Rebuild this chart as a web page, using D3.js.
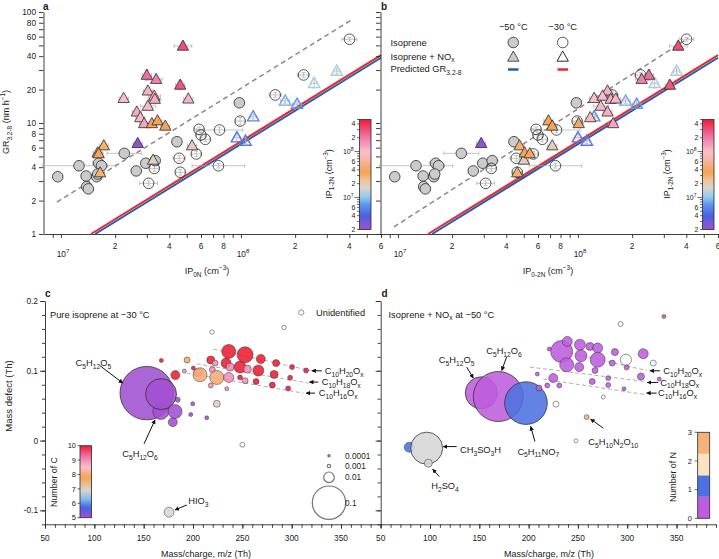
<!DOCTYPE html>
<html><head><meta charset="utf-8">
<script src="https://cdn.jsdelivr.net/npm/d3@7"></script>
<style>
body{margin:0;background:#fff}
svg{display:block}
text{font-family:"Liberation Sans",Arial,Helvetica,sans-serif;fill:#1a1a1a}
</style>
</head><body>
<svg id="chart" width="719" height="559"></svg>
<script>
// ================= DATA =================
// Panels a & b: growth rate vs ion-pair concentration
const ipDomain = [8e6, 6e8];
const grDomain = [1, 100];
const grTicks = [1,2,3,4,5,6,7,8,9,10,20,30,40,50,60,70,80,90,100];
const grTickLabels = [1,2,4,6,8,10,20,40,60,80,100];
const ipTicks = [9e6,1e7,2e7,3e7,4e7,5e7,6e7,7e7,8e7,9e7,1e8,2e8,3e8,4e8,5e8,6e8];
const ipLabelVals = [1e7,2e7,4e7,6e7,8e7,1e8,2e8,4e8,6e8];
const ipLabelText = ['10^{7}','2','4','6','8','10^{8}','2','4','6'];
// colorbar IP1-2N
const cbDomain = [2e6, 5e8];
const cbTicks = [2e6,3e6,4e6,5e6,6e6,7e6,8e6,9e6,1e7,2e7,3e7,4e7,5e7,6e7,7e7,8e7,9e7,1e8,2e8,3e8,4e8,5e8];
const cbLabelVals = [2e6,4e6,6e6,1e7,2e7,4e7,6e7,1e8,2e8,4e8];
const cbLabelText = ['2','4','6','10^{7}','2','4','6','10^{8}','2','4'];
const ipColorVals = [2e6,4e6,7e6,1e7,1.6e7,2.5e7,3.5e7,6e7,1e8,2e8,5e8];
const ipColorHex = ['#a150d2','#4a62e0','#5f95ef','#8ccaee','#d9d5cd','#f2c08e','#f5a352','#f7b39a','#f8bfca','#f07aab','#ee1c34'];

// Isoprene, -50 C (filled circles): [IP, GR, xErrFactor, yErrFactor]
const isoCold = [
  [9.6e6,3.28,1.06,1.05],[1.26e7,4.12,1.6,1.05],[1.38e7,3.33,1.06,1.05],[1.39e7,2.67,1.06,1.04],
  [1.42e7,2.55,1.06,1.04],[1.58e7,3.28,1.06,1.04],[1.62e7,4.34,1.08,1.05],[1.68e7,4.12,1.08,1.05],
  [1.6e7,3.47,1.06,1.04],[2.25e7,5.33,1.25,1.05],[2.62e7,3.7,1.06,1.04],[2.96e7,4.34,1.06,1.05],
  [3.34e7,4.58,1.06,1.05],[4.41e7,6.78,1.06,1.05],[9.8e7,15.2,1.06,1.05]
];
// Isoprene, -30 C (open circles)
const isoWarm = [
  [4.01e8,56.8,1.1,1.04],[2.23e8,27.1,1.08,1.05],[1.55e8,17.9,1.08,1.05],[9.9e7,10.4,1.06,1.08],
  [7.6e7,8.65,1.35,1.06],[5.85e7,8.77,1.06,1.05],[6.0e7,7.8,1.06,1.05],[6.34e7,7.13,1.06,1.05],
  [5.65e7,5.26,1.06,1.06],[4.54e7,4.81,1.08,1.06],[4.6e7,3.6,1.06,1.06],[7.5e7,4.12,1.4,1.05],
  [3.07e7,2.86,1.12,1.05],[3.3e7,3.9,1.06,1.06]
];
// Isoprene + NOx, -50 C (filled triangles): [IP0N, IP0-2N, GR, IP1-2N, xErr, yErr]
const noxCold = [
  [4.76e7,3.61e8,49.4,3.1e8,1.12,1.08],[4.6e7,3.24e8,22.0,2.8e8,1.06,1.1],[3.0e7,2.48e8,27.0,2.2e8,1.06,1.12],
  [3.38e7,2.26e8,24.8,1.9e8,1.08,1.06],[2.23e7,1.23e8,16.7,1.0e8,1.06,1.06],[3.04e7,1.46e8,19.5,1.15e8,1.06,1.06],
  [3.3e7,1.37e8,17.5,1.05e8,1.08,1.05],[3.32e7,1.52e8,16.4,1.2e8,1.08,1.05],[5.1e7,1.62e8,16.5,1.1e8,1.06,1.05],
  [3.04e7,1.34e8,14.2,1.04e8,1.1,1.05],[2.64e7,1.46e8,12.6,1.2e8,1.06,1.05],[2.76e7,1.17e8,11.2,9e7,1.06,1.05],
  [2.9e7,1.57e8,9.9,1.3e8,1.06,1.05],[3.2e7,1.01e8,9.9,4e7,1.06,1.05],[3.44e7,6.86e7,10.5,3.4e7,1.06,1.05],
  [3.8e7,7.2e7,9.4,3.4e7,1.06,1.05],[2.67e7,2.9e7,6.56,2.3e6,1.06,1.05],[5.35e7,7.2e7,6.25,1.85e7,1.06,1.05],
  [3.25e7,5.01e7,4.64,1.76e7,1.06,1.05],[1.73e7,4.74e7,6.25,3e7,1.06,1.05],[1.6e7,5.06e7,5.4,3.46e7,1.06,1.05],
  [1.65e7,4.6e7,3.57,2.95e7,1.06,1.05],[1.62e7,5.4e7,5.3,3.8e7,1.06,1.05]
];
// Isoprene + NOx, -30 C (open triangles)
const noxWarm = [
  [3.41e8,3.53e8,29.4,1.2e7,1.04,1.06],[2.55e8,2.67e8,22.8,1.2e7,1.04,1.1],[1.76e8,1.84e8,15.8,8e6,1.06,1.05],
  [2.05e8,2.12e8,14.8,7e6,1.06,1.05],[1.17e8,1.23e8,11.4,6e6,1.04,1.05],[9.5e7,1.0e8,7.38,5e6,1.04,1.08],
  [1.06e8,1.12e8,6.88,5e6,1.04,1.05]
];
// Predicted GR and dashed guide lines: [IP, GR]
const predCold = [[1.55e7,1],[6e8,38.7]];
const predWarm = [[1.47e7,1],[6e8,40.8]];
const guideA = [[9.5e6,1.94],[4.05e8,83.5]];
const guideB = [[9.5e6,1.16],[4.1e8,58]];

// Panels c & d: mass defect plots
const mzDomain = [50, 390];
const mdDomain = [-0.12, 0.2];
const mzMajor = [50,100,150,200,250,300,350];
const mdMajor = [-0.1,0,0.1,0.2];
const mdLabels = ['-0.1','0','0.1','0.2'];
// [m/z, mass defect, signal fraction, number of C] ; nC = 0 -> grey inorganic
const bubblesC = [
  [153.1,0.068,0.256,5],[167.6,0.0666,0.086,5],[167.3,0.0416,0.023,5],[181.8,0.0416,0.0176,5],
  [179.5,0.0264,0.0073,5],[184.5,0.0584,0.0022,5],[199.7,0.0527,0.0014,5],[197.7,0.0373,0.0014,5],
  [213.9,0.0326,0.0014,5],
  [167.9,0.1148,0.0014,10],[182.1,0.0938,0.0073,10],[191.2,0.0996,0.0014,9],[194,0.1154,0.0032,8],
  [200.3,0.1039,0.0014,10],[204.8,0.0976,0.0057,9],[207.1,0.0943,0.0176,8],[218,0.1154,0.0057,10],
  [222.3,0.111,0.0032,9],[224.1,0.0904,0.0176,8],[218,0.0789,0.0022,9],[219.6,0.1014,0.0032,9],
  [236.2,0.1277,0.0176,10],[233.5,0.111,0.009,10],[237.6,0.1053,0.0057,9],[236.2,0.0904,0.009,9],
  [234.2,0.0742,0.0014,9],[252.8,0.123,0.023,10],[247.7,0.1053,0.0129,10],[255.1,0.1024,0.0057,9],
  [247.7,0.0904,0.0022,10],[252.8,0.0857,0.0032,9],[268.7,0.1168,0.0073,10],[266.2,0.1004,0.0109,10],
  [263.9,0.0846,0.0032,10],[284.2,0.111,0.0044,10],[282.2,0.0947,0.0057,10],[280.4,0.0795,0.0032,10],
  [300.4,0.1053,0.0022,10],[298.4,0.09,0.0022,10],[296.4,0.0746,0.0022,10],[314.6,0.1004,0.0022,10],
  [224.1,0.0527,0.0044,7],
  [175.7,-0.1027,0.009,0]
];
const unknownC = [[219.3,0.1555,0.0018],[292.3,0.162,0.0018],[250,-0.006,0.0022]];
// [m/z, mass defect, signal fraction, number of N] ; nN = -1 -> grey inorganic
const bubblesD = [
  [79,-0.0095,0.009,1],[96.6,-0.0109,0.092,-1],[98.3,-0.0324,0.0057,-1],
  [152,0.0684,0.092,0],[169.2,0.0631,0.224,0],[197.3,0.0537,0.163,1],[258.8,0.0336,0.0022,2],
  [233.5,0.1277,0.0434,0],[239.2,0.142,0.009,0],[238.6,0.1086,0.0176,0],[252,0.1373,0.0109,0],
  [253.1,0.1215,0.0129,0],[262.2,0.1349,0.0057,0],[270,0.1326,0.009,0],[270,0.1158,0.0202,0],
  [251.3,0.1053,0.0073,0],[267.3,0.1004,0.0032,0],[225,0.0895,0.0073,0],[220.9,0.1311,0.0014,0],
  [208.8,0.0953,0.0014,0],[218.9,0.0789,0.0022,0],[231.1,0.0789,0.0022,0],[210.5,0.0752,0.0032,0],
  [264.5,0.0846,0.0032,0],[280.7,0.0795,0.0022,0],[284.8,0.111,0.0032,0],[287.5,0.1268,0.0044,0],
  [299.4,0.1047,0.0022,0],[296.7,0.0742,0.0014,0],[316.2,0.1244,0.009,0],[313.9,0.0918,0.0044,0],
  [332.4,0.0881,0.0014,0],[337.2,0.1779,0.0014,0],[280.7,0.0895,0.0022,0]
];
const unknownD = [[227.7,0.0522,0.0032],[275.7,0.0623,0.0014],[248,-0.0004,0.0014],[293.3,0.167,0.0022],[298.7,0.1158,0.0109],[326.4,0.111,0.0032]];
// CHO series guide lines: [[mz0,md0],[mz1,md1]]
const seriesC = [[[220.6,0.1311],[318.7,0.1004]],[[203.8,0.110],[316.9,0.0824]],[[193.7,0.0967],[311.9,0.068]]];
const seriesD = [[[235.1,0.1277],[319.7,0.1004]],[[201.4,0.1053],[318,0.0846]],[[215,0.088],[318,0.066]]];
const seriesNames = ['C_{10}H_{20}O_{x}','C_{10}H_{18}O_{x}','C_{10}H_{16}O_{x}'];
// series arrows: [tailMz, headMz, md, labelMz]
const seriesArrowsC = [[330.5,320.4,0.1,333.5],[326.8,318,0.0838,330.5],[323.7,314.6,0.068,327.4]];
const seriesArrowsD = [[333.2,323,0.1,336.5],[331.4,320.3,0.0832,333.5],[329.8,319.7,0.068,331.3]];
// labelled peaks: [text, labelMz, labelMd, tailMz, tailMd, headMz, headMd, anchor]
const annotC = [
  ['C_{5}H_{12}O_{5}',99,0.111,105.8,0.1072,128.8,0.0824,'middle'],
  ['C_{5}H_{12}O_{6}',146.3,-0.0195,150.4,-0.0047,161.5,0.0297,'middle'],
  ['HIO_{3}',205.4,-0.087,193.7,-0.0923,181.8,-0.0994,'middle']
];
const annotD = [
  ['C_{5}H_{12}O_{5}',127,0.116,137.2,0.1053,143.9,0.0895,'middle'],
  ['C_{5}H_{12}O_{6}',175,0.128,177.7,0.1197,172.7,0.1004,'middle'],
  ['C_{5}H_{11}NO_{7}',209.8,-0.0155,206.4,-0.0014,202.1,0.0201,'middle'],
  ['CH_{3}SO_{3}H',130.4,-0.0135,127,-0.0086,113.5,-0.0086,'start'],
  ['H_{2}SO_{4}',115.2,-0.0655,109.4,-0.0516,102.7,-0.041,'middle'],
  ['C_{5}H_{10}N_{2}O_{10}',285.8,-0.0015,275.7,0.0178,262.9,0.0307,'middle']
];
const sizeLegend = [0.0001,0.001,0.01,0.1];
const sizeLegendText = ['0.0001','0.001','0.01','0.1'];
const cLabels = [5,6,7,8,9,10];
const cColorVals = [5,5.7,6.3,6.9,7.8,8.5,9.2,10];
const cColorHex = ['#a150d2','#4a62e0','#7fbcef','#d9d5cd','#f5a352','#f8bfca','#f07aab','#ee1c34'];
const nLevels = [0,1,2,3];
const nBlocks = [[0,0.75,'#bd5ddd'],[0.75,1.5,'#4d72e0'],[1.5,2.25,'#fde2c2'],[2.25,3,'#f5b378']];

// ================= DRAWING =================
const svg = d3.select('#chart');
const FS = 8.3;     // tick labels
const FT = 9;       // axis titles
const FL = 9.3;     // legends / annotations
const INK = '#2a2a2a';

function rich(t, s, fs){
  const parts = s.split(/(_\{[^}]*\}|\^\{[^}]*\})/).filter(p=>p!=='');
  let cur = 0;
  parts.forEach(p=>{
    let txt=p, target=0, size=fs;
    if(p.startsWith('_{')){txt=p.slice(2,-1); target=fs*0.3; size=fs*0.72;}
    else if(p.startsWith('^{')){txt=p.slice(2,-1); target=-fs*0.4; size=fs*0.72;}
    t.append('tspan').attr('dy', (target-cur).toFixed(2)).attr('font-size', size).text(txt);
    cur = target;
  });
  return t;
}
function txt(g, x, y, s, fs, anchor, rot){
  const t = g.append('text').attr('x',x).attr('y',y).attr('font-size',fs).attr('text-anchor',anchor||'start');
  if(rot) t.attr('transform',`rotate(${rot},${x},${y})`);
  return rich(t, s, fs);
}
const defs = svg.append('defs');
defs.append('marker').attr('id','arrow').attr('viewBox','0 0 10 10').attr('refX',9).attr('refY',5)
  .attr('markerWidth',4.5).attr('markerHeight',4.5).attr('orient','auto')
  .append('path').attr('d','M0,0 L10,5 L0,10 Z').attr('fill','#111');

const ipColor = d3.scaleLog().domain(ipColorVals).range(ipColorHex).clamp(true);
const cColor = d3.scaleLinear().domain(cColorVals).range(cColorHex).clamp(true);
const triPath = 'M0,-6 L5.7,4.2 L-5.7,4.2 Z';

function vColorbar(id, scale, dom, x, y0, y1, w, isLog){
  const grad = defs.append('linearGradient').attr('id',id).attr('x1',0).attr('y1',1).attr('x2',0).attr('y2',0);
  const n = 40;
  for(let i=0;i<=n;i++){
    const f = i/n;
    const v = isLog ? Math.pow(10, Math.log10(dom[0]) + f*(Math.log10(dom[1])-Math.log10(dom[0]))) : dom[0]+f*(dom[1]-dom[0]);
    grad.append('stop').attr('offset',f).attr('stop-color',scale(v));
  }
  svg.append('rect').attr('x',x).attr('y',y0).attr('width',w).attr('height',y1-y0)
    .attr('fill',`url(#${id})`).attr('stroke',INK).attr('stroke-width',0.8);
}

function ipColorbar(bx, titleX){
  const y = d3.scaleLog().domain(cbDomain).range([229.5,119.5]);
  vColorbar('g'+bx, ipColor, cbDomain, bx, 119.5, 229.5, 11.5, true);
  const g = svg.append('g');
  cbTicks.forEach(v=>{
    const major = [1e7,1e8].includes(v);
    g.append('line').attr('x1',bx).attr('x2',bx-(major?5:2.5)).attr('y1',y(v)).attr('y2',y(v)).attr('stroke',INK).attr('stroke-width',0.7);
  });
  cbLabelVals.forEach((v,i)=>{
    const pow = cbLabelText[i].startsWith('10');
    txt(g, bx-(pow?6:4), y(v)+2.5, cbLabelText[i], 7, 'end');
  });
  txt(g, titleX, 174, 'IP_{1-2N} (cm^{−3})', 8.8, 'middle', -90);
}

function growthPanel(x0, x1, idx, showYLabels){
  const g = svg.append('g');
  const x = d3.scaleLog().domain(ipDomain).range([x0, x1]);
  const y = d3.scaleLog().domain(grDomain).range([234, 12]);
  const line = d3.line().x(d=>x(d[0])).y(d=>y(d[1]));
  // x axis
  g.append('g').attr('transform','translate(0,234)').attr('color',INK)
    .call(d3.axisBottom(x).tickValues(ipTicks).tickFormat('').tickSize(4).tickSizeOuter(0))
    .call(s=>s.selectAll('line,path').attr('stroke-width',0.9));
  ipLabelVals.forEach((v,i)=>{
    const pow = ipLabelText[i].startsWith('10');
    txt(g, x(v)+(pow?2:0), pow?256.5:248.5, ipLabelText[i], FS, 'middle');
  });
  // y axis
  g.append('g').attr('transform',`translate(${x0},0)`).attr('color',INK)
    .call(d3.axisLeft(y).tickValues(grTicks).tickFormat('').tickSize(4.5).tickSizeOuter(0))
    .call(s=>s.selectAll('line,path').attr('stroke-width',0.9));
  if(showYLabels){
    grTickLabels.forEach(v=>{ g.append('text').attr('x',x0-7.5).attr('y',y(v)+3).attr('font-size',FS).attr('text-anchor','end').text(v); });
  }
  // guide + predictions
  g.append('path').datum(idx===0?guideA:guideB).attr('d',line).attr('fill','none').attr('stroke','#8a8a8a').attr('stroke-width',1.5).attr('stroke-dasharray','5,3.5');
  g.append('path').datum(predCold).attr('d',line).attr('fill','none').attr('stroke','#1f5fb0').attr('stroke-width',2);
  g.append('path').datum(predWarm).attr('d',line).attr('fill','none').attr('stroke','#e8262e').attr('stroke-width',2);
  // error bars
  const eb = g.append('g').attr('stroke','#aaa').attr('stroke-width',0.7).attr('fill','none');
  function err(px, gr, ex, ey){
    const cx=x(px), cy=y(gr), xa=x(px/ex), xb=x(px*ex), ya=y(gr/ey), yb=y(gr*ey);
    eb.append('path').attr('d',`M${xa},${cy}H${xb}M${xa},${cy-2}V${cy+2}M${xb},${cy-2}V${cy+2}M${cx},${ya}V${yb}M${cx-2},${ya}H${cx+2}M${cx-2},${yb}H${cx+2}`);
  }
  isoCold.forEach(d=>err(d[0],d[1],d[2],d[3]));
  isoWarm.forEach(d=>err(d[0],d[1],d[2],d[3]));
  noxCold.forEach(d=>err(d[idx],d[2],d[4],d[5]));
  noxWarm.forEach(d=>err(d[idx],d[2],d[4],d[5]));
  // markers
  g.selectAll('.ic').data(isoCold).join('circle').attr('cx',d=>x(d[0])).attr('cy',d=>y(d[1])).attr('r',5.3)
    .attr('fill','#cbcbcb').attr('stroke',INK).attr('stroke-width',0.8);
  g.selectAll('.iw').data(isoWarm).join('circle').attr('cx',d=>x(d[0])).attr('cy',d=>y(d[1])).attr('r',5.3)
    .attr('fill','none').attr('stroke',INK).attr('stroke-width',0.8);
  g.selectAll('.nw').data(noxWarm).join('path').attr('d',triPath).attr('transform',d=>`translate(${x(d[idx])},${y(d[2])})`)
    .attr('fill','none').attr('stroke',d=>ipColor(d[3])).attr('stroke-width',1.4);
  g.selectAll('.nc').data(noxCold).join('path').attr('d',triPath).attr('transform',d=>`translate(${x(d[idx])},${y(d[2])})`)
    .attr('fill',d=>ipColor(d[3])).attr('stroke',INK).attr('stroke-width',0.8);
  return g;
}

const ga = growthPanel(43.5, 381, 0, true);
const gb = growthPanel(380.5, 718, 1, false);
// titles
txt(svg, 9, 122, 'GR_{3.2-8} (nm h^{−1})', FT, 'middle', -90);
txt(svg, 207, 274, 'IP_{0N} (cm^{−3})', FT, 'middle');
txt(svg, 548, 274, 'IP_{0-2N} (cm^{−3})', FT, 'middle');
svg.append('text').attr('x',43).attr('y',9.5).attr('font-size',10).attr('font-weight','bold').text('a');
svg.append('text').attr('x',381).attr('y',9.5).attr('font-size',10).attr('font-weight','bold').text('b');
ipColorbar(359.5, 331.5);
ipColorbar(702.5, 670);

// legend in b
const lg = svg.append('g');
txt(lg, 513.3, 30, '−50 °C', FL, 'middle');
txt(lg, 562.7, 30, '−30 °C', FL, 'middle');
txt(lg, 390.5, 46, 'Isoprene', FL, 'start');
txt(lg, 390.5, 59.5, 'Isoprene + NO_{x}', FL, 'start');
txt(lg, 390.5, 72, 'Predicted GR_{3.2-8}', FL, 'start');
lg.append('circle').attr('cx',513.3).attr('cy',42.5).attr('r',5.3).attr('fill','#cbcbcb').attr('stroke',INK).attr('stroke-width',0.8);
lg.append('circle').attr('cx',562.7).attr('cy',42.5).attr('r',5.3).attr('fill','none').attr('stroke',INK).attr('stroke-width',0.8);
lg.append('path').attr('d',triPath).attr('transform','translate(513.3,57)').attr('fill','#cbcbcb').attr('stroke',INK).attr('stroke-width',0.8);
lg.append('path').attr('d',triPath).attr('transform','translate(562.7,57)').attr('fill','none').attr('stroke',INK).attr('stroke-width',1);
lg.append('line').attr('x1',508).attr('x2',518.5).attr('y1',69.5).attr('y2',69.5).attr('stroke','#1f5fb0').attr('stroke-width',2.5);
lg.append('line').attr('x1',557.5).attr('x2',568).attr('y1',69.5).attr('y2',69.5).attr('stroke','#e8262e').attr('stroke-width',2.5);

// ---------- panels c & d ----------
const rScale = v => 52.8*Math.sqrt(v);
function massPanel(x0, x1, showYLabels, bubbles, colorFn, unknown, series, arrows, annots){
  const g = svg.append('g');
  const x = d3.scaleLinear().domain(mzDomain).range([x0, x1]);
  const y = d3.scaleLinear().domain(mdDomain).range([524.3, 301]);
  const minor = d3.range(50, 391, 10);
  g.append('g').attr('transform','translate(0,524.3)').attr('color',INK)
    .call(d3.axisBottom(x).tickValues(minor).tickFormat('').tickSize(3.5).tickSizeOuter(0))
    .call(s=>s.selectAll('line,path').attr('stroke-width',0.9));
  g.append('g').attr('transform','translate(0,524.3)').attr('color',INK)
    .call(d3.axisBottom(x).tickValues(mzMajor).tickFormat('').tickSize(4.5).tickSizeOuter(0))
    .call(s=>s.select('.domain').remove()).call(s=>s.selectAll('line').attr('stroke-width',0.9));
  mzMajor.forEach(v=>g.append('text').attr('x',x(v)).attr('y',541).attr('font-size',FS).attr('text-anchor','middle').text(v));
  const ymin = d3.range(-12, 21, 2).map(v=>v/100);
  g.append('g').attr('transform',`translate(${x0},0)`).attr('color',INK)
    .call(d3.axisLeft(y).tickValues(ymin).tickFormat('').tickSize(3).tickSizeOuter(0))
    .call(s=>s.selectAll('line,path').attr('stroke-width',0.9));
  g.append('g').attr('transform',`translate(${x0},0)`).attr('color',INK)
    .call(d3.axisLeft(y).tickValues(mdMajor).tickFormat('').tickSize(5).tickSizeOuter(0))
    .call(s=>s.select('.domain').remove()).call(s=>s.selectAll('line').attr('stroke-width',0.9));
  if(showYLabels) mdMajor.forEach((v,i)=>g.append('text').attr('x',x0-7).attr('y',y(v)+3).attr('font-size',FS).attr('text-anchor','end').text(mdLabels[i]));
  // series lines
  series.forEach(s=>g.append('path').attr('d',`M${x(s[0][0])},${y(s[0][1])}L${x(s[1][0])},${y(s[1][1])}`)
    .attr('stroke','#9a9a9a').attr('stroke-width',0.8).attr('stroke-dasharray','4,2.5').attr('fill','none'));
  // bubbles, ordered by m/z
  const all = bubbles.map(d=>({mz:d[0],md:d[1],v:d[2],k:d[3],u:false}))
    .concat(unknown.map(d=>({mz:d[0],md:d[1],v:d[2],u:true})))
    .sort((a,b)=>a.mz-b.mz);
  g.selectAll('.b').data(all).join('circle').attr('cx',d=>x(d.mz)).attr('cy',d=>y(d.md)).attr('r',d=>Math.max(1.2,rScale(d.v)))
    .attr('fill',d=>d.u?'#fff':colorFn(d.k)).attr('fill-opacity',d=>d.u?1:0.88)
    .attr('stroke',d=>d.u?'#777':'#333').attr('stroke-width',d=>d.u?0.8:(d.v>0.05?0.8:0.5));
  // series arrows & labels
  arrows.forEach((a,i)=>{
    g.append('line').attr('x1',x(a[0])).attr('x2',x(a[1])).attr('y1',y(a[2])).attr('y2',y(a[2]))
      .attr('stroke','#111').attr('stroke-width',1).attr('marker-end','url(#arrow)');
    txt(g, x(a[3]), y(a[2])+3.2, seriesNames[i], FL, 'start');
  });
  annots.forEach(a=>{
    g.append('line').attr('x1',x(a[3])).attr('y1',y(a[4])).attr('x2',x(a[5])).attr('y2',y(a[6]))
      .attr('stroke','#111').attr('stroke-width',1).attr('marker-end','url(#arrow)');
    txt(g, x(a[1]), y(a[2])+3.2, a[0], FL, a[7]);
  });
  return {g,x,y};
}

const pc = massPanel(45, 380.5, true, bubblesC, k=>k===0?'#d6d6d6':cColor(k), unknownC, seriesC, seriesArrowsC, annotC);
const nColor = k=>{ if(k<0) return '#d6d6d6'; const b = nBlocks.find(b=>k>=b[0]&&k<b[1]) || nBlocks[nBlocks.length-1]; return k===2?'#f2b27a':b[2]; };
const pd = massPanel(380.7, 716, false, bubblesD, nColor, unknownD, seriesD, seriesArrowsD, annotD);

txt(svg, 12, 396, 'Mass defect (Th)', 9.5, 'middle', -90);
txt(svg, 206, 557, 'Mass/charge, m/z (Th)', FT, 'middle');
txt(svg, 549, 557, 'Mass/charge, m/z (Th)', FT, 'middle');
svg.append('text').attr('x',45).attr('y',297).attr('font-size',10).attr('font-weight','bold').text('c');
svg.append('text').attr('x',381.5).attr('y',297).attr('font-size',10).attr('font-weight','bold').text('d');
txt(svg, 50, 317.5, 'Pure isoprene at −30 °C', FL, 'start');
txt(svg, 388.5, 317.5, 'Isoprene + NO_{x} at −50 °C', FL, 'start');
// unidentified legend
svg.append('circle').attr('cx',301.3).attr('cy',312.5).attr('r',2.6).attr('fill','#fff').attr('stroke','#777').attr('stroke-width',0.8);
txt(svg, 316, 315.5, 'Unidentified', FL, 'start');
// size legend
const slY = [455.7, 466, 477.3, 502.7];
sizeLegend.forEach((v,i)=>{
  svg.append('circle').attr('cx',329).attr('cy',slY[i]).attr('r',Math.max(1,rScale(v))).attr('fill','none').attr('stroke','#777').attr('stroke-width',i===0?1.5:1.2);
  svg.append('text').attr('x',345).attr('y',slY[i]+3).attr('font-size',FS).text(sizeLegendText[i]);
});
// Number of C colorbar
(function(){
  const y = d3.scaleLinear().domain([5,10]).range([517.7,445.7]);
  vColorbar('gC', cColor, [5,10], 80, 445.7, 517.7, 11.5, false);
  cLabels.forEach(v=>{
    svg.append('line').attr('x1',80).attr('x2',77.5).attr('y1',y(v)).attr('y2',y(v)).attr('stroke',INK).attr('stroke-width',0.7);
    svg.append('text').attr('x',76).attr('y',y(v)+2.7).attr('font-size',7.5).attr('text-anchor','end').text(v);
  });
  txt(svg, 57, 482, 'Number of C', 8.8, 'middle', -90);
})();
// Number of N colorbar
(function(){
  const y = d3.scaleLinear().domain([0,3]).range([518.3,432.3]);
  nBlocks.forEach(b=>svg.append('rect').attr('x',697.7).attr('width',12).attr('y',y(b[1])).attr('height',y(b[0])-y(b[1])).attr('fill',b[2]));
  svg.append('rect').attr('x',697.7).attr('width',12).attr('y',432.3).attr('height',86).attr('fill','none').attr('stroke',INK).attr('stroke-width',0.8);
  nLevels.forEach(v=>{
    svg.append('line').attr('x1',697.7).attr('x2',694.7).attr('y1',y(v)).attr('y2',y(v)).attr('stroke',INK).attr('stroke-width',0.7);
    svg.append('text').attr('x',692).attr('y',y(v)+2.7).attr('font-size',7.5).attr('text-anchor','end').text(v);
  });
  txt(svg, 676, 477, 'Number of N', 8.8, 'middle', -90);
})();
</script>
</body></html>
